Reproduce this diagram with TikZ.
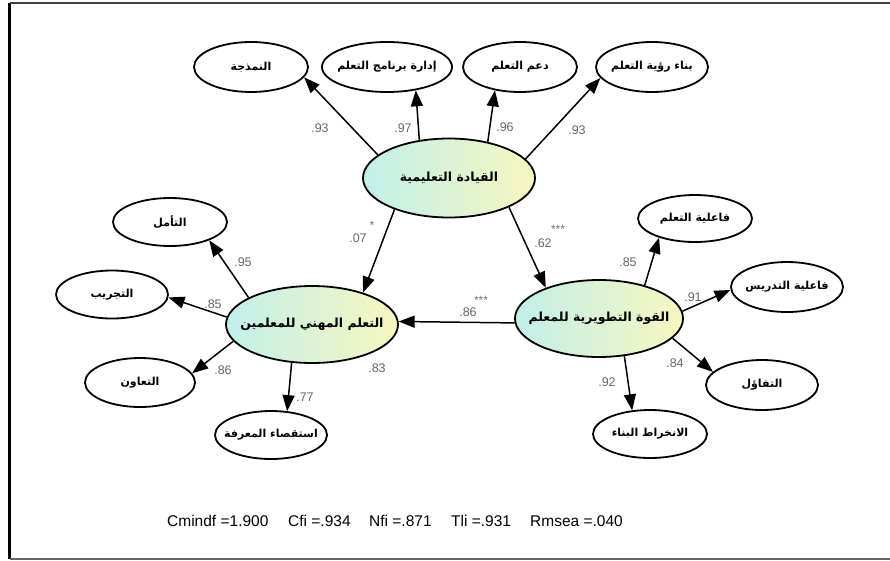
\documentclass[tikz,border=0pt]{standalone}
\usepackage{fontspec}
\setmainfont{Liberation Sans}
\newfontfamily\arabicfont[Script=Arabic]{DejaVu Sans}
\TeXXeTstate=1
\usetikzlibrary{shapes.geometric,arrows.meta}
% Arabic label in a zero-width box, so the ellipse keeps its own size
\newcommand\artxt[1]{\makebox[0pt]{\arabicfont\bfseries\beginR #1\endR}}
\definecolor{latL}{HTML}{C2EFEA}
\definecolor{latR}{HTML}{F7F7C0}
\begin{document}
\begin{tikzpicture}[x=1pt,y=-1pt,
  latent/.style={ellipse, draw, line width=1.8pt, inner sep=0pt,
    left color=latL, right color=latR, font=\fontsize{12.5}{14}\selectfont},
  ind/.style={ellipse, draw, line width=1.8pt, inner sep=0pt, fill=white,
    font=\fontsize{11}{13}\selectfont},
  arr/.style={-{Triangle[length=16pt,width=12pt]}, line width=1.5pt},
  lbl/.style={text=black!60, font=\fontsize{12.5}{12.5}\selectfont, inner sep=0pt},
  stars/.style={text=black!55, font=\fontsize{12}{12}\selectfont, inner sep=0pt},
  fit/.style={font=\fontsize{15.5}{15.5}\selectfont, anchor=base west, inner sep=0pt}]
\useasboundingbox (0,0) rectangle (890,560);
% frame
\draw[line width=2.5pt, black] (9.5,558.5) -- (9.5,2.5);
\draw[line width=2pt, black!75] (9.5,2.5) -- (890,2.5);
\draw[line width=2pt, black!60] (9.5,558.5) -- (890,558.5);

% latent variables
\node[latent, minimum width=172pt, minimum height=79pt] (T) at (449,178) {\artxt{القيادة التعليمية}};
\node[latent, minimum width=172pt, minimum height=77pt] (L) at (312,324.5) {\artxt{التعلم المهني للمعلمين}};
\node[latent, minimum width=168pt, minimum height=77pt] (R) at (599,318.5) {\artxt{القوة التطويرية للمعلم}};

% indicators of T
\node[ind, minimum width=114pt, minimum height=50pt] (I1) at (251,67) {\artxt{النمذجة}};
\node[ind, minimum width=130pt, minimum height=50pt] (I2) at (387,67) {\artxt{إدارة برنامج التعلم}};
\node[ind, minimum width=114pt, minimum height=50pt] (I3) at (520,67) {\artxt{دعم التعلم}};
\node[ind, minimum width=112pt, minimum height=50pt] (I4) at (652,67) {\artxt{بناء رؤية التعلم}};

% indicators of L
\node[ind, minimum width=114pt, minimum height=48pt] (A1) at (170,222) {\artxt{التأمل}};
\node[ind, minimum width=112pt, minimum height=48pt] (A2) at (112,294.5) {\artxt{التجريب}};
\node[ind, minimum width=110pt, minimum height=49pt] (A3) at (140,382.5) {\artxt{التعاون}};
\node[ind, minimum width=112pt, minimum height=48pt] (A4) at (271,435) {\artxt{استقصاء المعرفة}};

% indicators of R
\node[ind, minimum width=114pt, minimum height=47pt] (B1) at (695,218.5) {\artxt{فاعلية التعلم}};
\node[ind, minimum width=112pt, minimum height=50pt] (B2) at (787,287) {\artxt{فاعلية التدريس}};
\node[ind, minimum width=112pt, minimum height=50pt] (B3) at (762,385) {\artxt{التفاؤل}};
\node[ind, minimum width=114pt, minimum height=48pt] (B4) at (650,434) {\artxt{الانخراط البناء}};

% paths
\draw[arr] (T.162.5) -- (I1.-11);
\draw[arr] (T.128) -- (I2.-39);
\draw[arr] (T.43) -- (I3.223);
\draw[arr] (T.14) -- (I4.192);
\draw[arr] (T.210) -- (L.32);
\draw[arr] (T.-26) -- (R.150);
\draw[arr] (R.183) -- (L.2);
\draw[arr] (L.157) -- (A1.-25);
\draw[arr] (L.175) -- (A2.-3.5);
\draw[arr] (L.192) -- (A3.10);
\draw[arr] (L.242.6) -- (A4.56);
\draw[arr] (R.36.5) -- (B1.208);
\draw[arr] (R.5.6) -- (B2.183);
\draw[arr] (R.-15.4) -- (B3.165);
\draw[arr] (R.-56) -- (B4.127);

% coefficients
\node[lbl] (c1) at (320,128) {.93};
\node[lbl] (c2) at (403,128) {.97};
\node[lbl] (c3) at (505,127) {.96};
\node[lbl] (c4) at (577,130) {.93};
\node[lbl] (c5) at (358,238) {.07};
\node[stars] (s5) at (372,225) {*};
\node[lbl] (c6) at (543,243) {.62};
\node[stars] (s6) at (558,229) {***};
\node[lbl] (c7) at (468,312) {.86};
\node[stars] (s7) at (481,300) {***};
\node[lbl] (c8) at (377,368) {.83};
\node[lbl] (c9) at (243,262) {.95};
\node[lbl] (c10) at (213,304) {.85};
\node[lbl] (c11) at (223,370) {.86};
\node[lbl] (c12) at (305,397) {.77};
\node[lbl] (c13) at (628,262) {.85};
\node[lbl] (c14) at (693,297) {.91};
\node[lbl] (c15) at (675,363) {.84};
\node[lbl] (c16) at (607,382) {.92};

% fit indices
\node[fit] (f1) at (167,526) {Cmindf =1.900};
\node[fit] (f2) at (288,526) {Cfi =.934};
\node[fit] (f3) at (369,526) {Nfi =.871};
\node[fit] (f4) at (451,526) {Tli =.931};
\node[fit] (f5) at (530,526) {Rmsea =.040};
\end{tikzpicture}
\end{document}
